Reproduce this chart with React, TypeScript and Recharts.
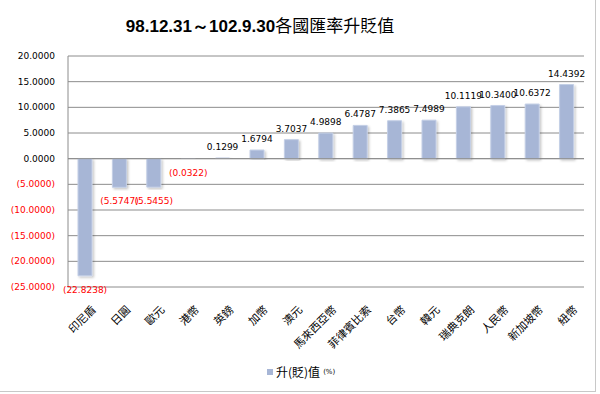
import React from "react";
import {
  BarChart,
  Bar,
  XAxis,
  YAxis,
  CartesianGrid,
  ReferenceLine,
  LabelList,
} from "recharts";

const categories = [
  "印尼盾",
  "日圓",
  "歐元",
  "港幣",
  "英鎊",
  "加幣",
  "澳元",
  "馬來西亞幣",
  "菲律賓比索",
  "台幣",
  "韓元",
  "瑞典克朗",
  "人民幣",
  "新加坡幣",
  "紐幣",
];
const values = [
  -22.8238, -5.5747, -5.5455, -0.0322, 0.1299, 1.6794, 3.7037, 4.9898, 6.4787,
  7.3865, 7.4989, 10.1119, 10.34, 10.6372, 14.4392,
];
const yTicks = [-25, -20, -15, -10, -5, 0, 5, 10, 15, 20];
const titleNum = "98.12.31～102.9.30";
const titleText = "各國匯率升貶值";
const seriesName = "升(貶)值";
const seriesUnit = "(%)";

const data = categories.map((c, i) => ({ name: c, value: values[i] }));

const fmt = (v: number) =>
  v < 0 ? `(${Math.abs(v).toFixed(4)})` : v.toFixed(4);

const NUM_FONT = "'DejaVu Sans', Verdana, sans-serif";
const CJK_FONT = "'Noto Sans CJK TC', 'Noto Sans', sans-serif";

const YTick = (props: any) => {
  const { x, y, payload } = props;
  const v = payload.value as number;
  return (
    <text
      x={x - 5}
      y={y}
      dy={3}
      textAnchor="end"
      fontSize={9}
      fontFamily={NUM_FONT}
      fill={v < 0 ? "#ff0000" : "#000000"}
    >
      {fmt(v)}
    </text>
  );
};

const XTick = (props: any) => {
  const { x, y, payload } = props;
  const ax = x + 4;
  const ay = y + 8;
  return (
    <text
      x={ax}
      y={ay}
      textAnchor="end"
      dominantBaseline="hanging"
      fontSize={11}
      fontFamily={CJK_FONT}
      fill="#000"
      transform={`rotate(-45, ${ax}, ${ay})`}
    >
      {payload.value}
    </text>
  );
};

const BarLabel = (props: any) => {
  const { x, y, width, height, value } = props;
  const v = Number(value);
  const top = Math.min(y, y + height);
  const bottom = Math.max(y, y + height);
  const cx = x + width / 2;
  return (
    <text
      x={cx}
      y={v < 0 ? bottom + 17 : top - 8}
      textAnchor="middle"
      fontSize={9}
      fontFamily={NUM_FONT}
      fill={v < 0 ? "#ff0000" : "#000000"}
    >
      {fmt(v)}
    </text>
  );
};

export default function App() {
  return (
    <div
      style={{
        position: "absolute",
        left: 0,
        top: 0,
        width: 600,
        height: 394,
        background: "#fff",
      }}
    >
      <div
        style={{
          position: "absolute",
          left: 0,
          top: 0,
          width: 596,
          height: 392,
          borderRight: "1px solid #c8c8c8",
          borderBottom: "1px solid #c8c8c8",
          boxSizing: "border-box",
        }}
      />
      <div
        style={{
          position: "absolute",
          left: 0,
          top: 13,
          width: 520,
          textAlign: "center",
          fontSize: 17,
          lineHeight: "24px",
          color: "#000",
          whiteSpace: "nowrap",
        }}
      >
        <span style={{ fontFamily: "'Liberation Sans', sans-serif", fontWeight: "bold" }}>
          {titleNum}
        </span>
        <span style={{ fontFamily: CJK_FONT }}>{titleText}</span>
      </div>
      <BarChart
        width={600}
        height={394}
        data={data}
        margin={{ top: 56, right: 16, bottom: 37, left: 8 }}
      >
        <defs>
          <filter id="shadow" x="-30%" y="-10%" width="160%" height="120%">
            <feDropShadow dx="1.5" dy="1.5" stdDeviation="1" floodColor="#000" floodOpacity="0.22" />
          </filter>
        </defs>
        <CartesianGrid vertical={false} stroke="#8c8c8c" />
        <XAxis
          dataKey="name"
          interval={0}
          height={70}
          axisLine={false}
          tickLine={false}
          tick={<XTick />}
        />
        <YAxis
          width={60}
          domain={[-25, 20]}
          ticks={yTicks}
          interval={0}
          axisLine={{ stroke: "#8c8c8c" }}
          tickLine={false}
          tick={<YTick />}
        />
        <ReferenceLine y={0} stroke="#8c8c8c" />
        <Bar
          dataKey="value"
          fill="#a7b6d6"
          stroke="#c4cfe6"
          strokeWidth={1}
          barSize={14}
          filter="url(#shadow)"
          isAnimationActive={false}
        >
          <LabelList dataKey="value" content={<BarLabel />} />
        </Bar>
      </BarChart>
      <div
        style={{
          position: "absolute",
          left: 267,
          top: 363,
          display: "flex",
          alignItems: "center",
          whiteSpace: "nowrap",
        }}
      >
        <span
          style={{
            display: "inline-block",
            width: 6,
            height: 6,
            background: "#a7b6d6",
            marginRight: 3,
          }}
        />
        <span style={{ fontFamily: CJK_FONT, fontSize: 12, color: "#000" }}>
          {seriesName}
        </span>
        <span
          style={{
            fontFamily: NUM_FONT,
            fontSize: 7,
            color: "#000",
            marginLeft: 3,
          }}
        >
          {seriesUnit}
        </span>
      </div>
    </div>
  );
}
